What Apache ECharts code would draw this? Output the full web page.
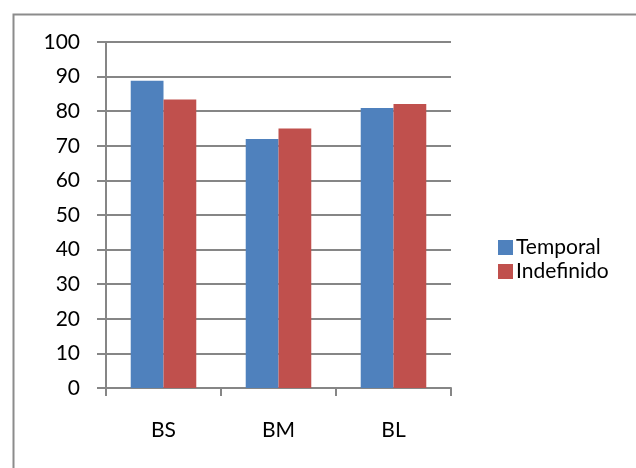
<!DOCTYPE html>
<html>
<head>
<meta charset="utf-8">
<script src="https://cdn.jsdelivr.net/npm/echarts@6/dist/echarts.min.js"></script>
<style>
  html, body { margin: 0; padding: 0; background: #fff; }
  #chart { width: 636px; height: 468px; }
</style>
</head>
<body>
<div id="chart"></div>
<script>
// Categories and series values
const categories = ['BS', 'BM', 'BL'];
const temporal = [88.8, 72.0, 80.9];
const indefinido = [83.4, 75.0, 82.1];
const seriesNames = ['Temporal', 'Indefinido'];

const font = 'Lato, "Open Sans", sans-serif';
const gridColor = '#868686';

const chart = echarts.init(document.getElementById('chart'), null, { renderer: 'canvas' });

chart.setOption({
  animation: false,
  backgroundColor: '#ffffff',
  graphic: [{
    type: 'rect',
    left: 11, top: 12,
    shape: { width: 720, height: 520 },
    style: { fill: 'none', stroke: '#8c8c8c', lineWidth: 2 },
    silent: true
  }],
  grid: { left: 106, top: 42, right: 185, bottom: 80, containLabel: false },
  legend: {
    orient: 'vertical',
    left: 493, top: 232,
    itemWidth: 15, itemHeight: 15, itemGap: 3,
    icon: 'rect',
    textStyle: { fontFamily: font, fontSize: 21, lineHeight: 15, color: '#000', padding: [0, 0, 0, -2] },
    data: seriesNames
  },
  xAxis: {
    type: 'category',
    data: categories,
    axisLine: { lineStyle: { color: gridColor, width: 2 } },
    axisTick: { show: true, length: 8, lineStyle: { color: gridColor, width: 2 } },
    axisLabel: { fontFamily: font, fontSize: 21, color: '#000', margin: 32 }
  },
  yAxis: {
    type: 'value',
    min: 0, max: 100, interval: 10,
    axisLine: { show: true, lineStyle: { color: gridColor, width: 2 } },
    axisTick: { show: true, inside: false, length: 9, lineStyle: { color: gridColor, width: 2 } },
    axisLabel: { fontFamily: font, fontSize: 21, color: '#000', margin: 26 },
    splitLine: { show: true, lineStyle: { color: gridColor, width: 2 } }
  },
  series: [
    {
      name: seriesNames[0], type: 'bar', data: temporal,
      barGap: '0%', barCategoryGap: '43%',
      itemStyle: { color: '#4F81BD' }
    },
    {
      name: seriesNames[1], type: 'bar', data: indefinido,
      barGap: '0%', barCategoryGap: '43%',
      itemStyle: { color: '#C0504D' }
    }
  ]
});
</script>
</body>
</html>
